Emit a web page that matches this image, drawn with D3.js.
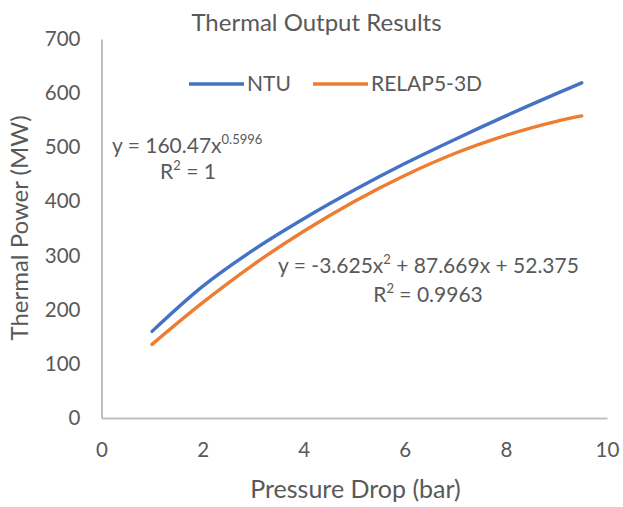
<!DOCTYPE html>
<html><head><meta charset="utf-8">
<script src="https://cdn.jsdelivr.net/npm/d3@7/dist/d3.min.js"></script>
<style>body{margin:0;background:#fff}text{font-family:Lato,"Open Sans",sans-serif;fill:#595959}</style>
</head><body><svg id="c" width="623" height="507"></svg>
<script>
const pressureDrop = [1, 2, 3, 4, 5, 6, 7, 8, 9, 9.5];
const ntuPower     = [160, 243, 310, 368, 421, 470, 515, 558, 599, 619];
const relapPower   = [136, 213, 283, 345, 400, 448, 489, 522, 548, 558];
const xTicks = [0, 2, 4, 6, 8, 10];
const yTicks = [0, 100, 200, 300, 400, 500, 600, 700];
const seriesNames = ["NTU", "RELAP5-3D"];
const colors = ["#4472C4", "#ED7D31"];

const svg = d3.select("#c");
const x = d3.scaleLinear().domain([0, 10]).range([101.5, 607]);
const y = d3.scaleLinear().domain([0, 700]).range([418, 39]);

svg.append("text").attr("x", 316.5).attr("y", 30.5).attr("text-anchor", "middle").style("font-size", "24px").text("Thermal Output Results");

const xAx = svg.append("g").attr("transform", "translate(0,418)").call(d3.axisBottom(x).tickValues(xTicks).tickSize(0).tickPadding(24));
const yAx = svg.append("g").attr("transform", "translate(101.5,0)").call(d3.axisLeft(y).tickValues(yTicks).tickSize(0).tickPadding(21));
[xAx, yAx].forEach(g => {
  g.select(".domain").attr("stroke", "#bfbfbf").attr("stroke-width", 2);
  g.selectAll("text").style("font-size", "20.5px").style("font-family", "Lato,'Open Sans',sans-serif").attr("fill", "#595959");
});

svg.append("text").attr("x", 355.5).attr("y", 498).attr("text-anchor", "middle").style("font-size", "25px").text("Pressure Drop (bar)");
svg.append("text").attr("transform", "translate(28,228) rotate(-90)").attr("text-anchor", "middle").style("font-size", "24px").text("Thermal Power (MW)");

const line = d3.line().x(d => x(d[0])).y(d => y(d[1])).curve(d3.curveMonotoneX);
[ntuPower, relapPower].forEach((vals, i) => {
  svg.append("path").datum(pressureDrop.map((p, j) => [p, vals[j]]))
    .attr("d", line).attr("fill", "none").attr("stroke", colors[i]).attr("stroke-width", 3.4).attr("stroke-linecap", "round");
});

// legend
const legX = [189, 313];
seriesNames.forEach((n, i) => {
  svg.append("line").attr("x1", legX[i]).attr("x2", legX[i] + 55).attr("y1", 84).attr("y2", 84).attr("stroke", colors[i]).attr("stroke-width", 3.4);
  svg.append("text").attr("x", legX[i] + 58).attr("y", 91).style("font-size", "21px").text(n);
});

// trendline equations
const t1 = svg.append("text").attr("x", 112).attr("y", 153).style("font-size", "21px");
t1.append("tspan").text("y = 160.47x");
t1.append("tspan").attr("dy", -9).style("font-size", "13px").text("0.5996");
const r1 = svg.append("text").attr("x", 188).attr("y", 179).attr("text-anchor", "middle").style("font-size", "21px");
r1.append("tspan").text("R");
r1.append("tspan").attr("dy", -9).style("font-size", "13px").text("2");
r1.append("tspan").attr("dy", 9).text(" = 1");

const t2 = svg.append("text").attr("x", 428.5).attr("y", 273).attr("text-anchor", "middle").style("font-size", "21px");
t2.append("tspan").text("y = -3.625x");
t2.append("tspan").attr("dy", -9).style("font-size", "13px").text("2");
t2.append("tspan").attr("dy", 9).text(" + 87.669x + 52.375");
const r2 = svg.append("text").attr("x", 428).attr("y", 302).attr("text-anchor", "middle").style("font-size", "21px");
r2.append("tspan").text("R");
r2.append("tspan").attr("dy", -9).style("font-size", "13px").text("2");
r2.append("tspan").attr("dy", 9).text(" = 0.9963");
</script></body></html>
